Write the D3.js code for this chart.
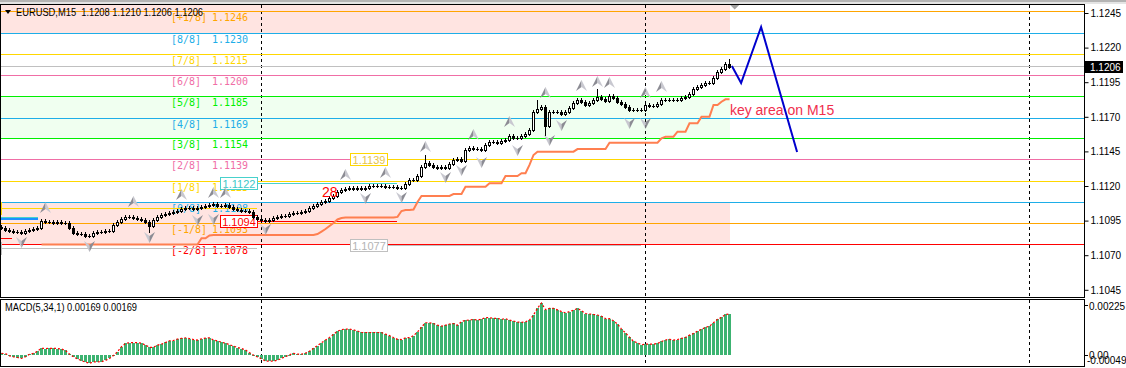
<!DOCTYPE html>
<html><head><meta charset="utf-8">
<script src="https://cdn.jsdelivr.net/npm/d3@7"></script>
<style>html,body{margin:0;padding:0;background:#fff;overflow:hidden}svg{display:block}text{white-space:pre}</style>
</head><body>
<svg id="c" width="1126" height="368"></svg>
<script>
// ---------------- DATA ----------------
const headerText = "EURUSD,M15  1.1208 1.1210 1.1206 1.1206";
const macdTitle = "MACD(5,34,1) 0.00169 0.00169";
const lastPrice = 1.1206;
const firstOpen = 1.10904;
const closes = [
1.10897,1.10882,1.10875,1.10868,1.10868,1.10861,1.10875,1.10882,1.10889,1.10897,
1.10947,1.10940,1.10940,1.10933,1.10940,1.10933,1.10933,1.10897,1.10861,1.10853,
1.10853,1.10839,1.10839,1.10861,1.10868,1.10868,1.10875,1.10875,1.10918,1.10940,
1.10962,1.10976,1.10976,1.10969,1.10962,1.10954,1.10940,1.10911,1.10954,1.10976,
1.10991,1.10998,1.11005,1.11012,1.11019,1.11034,1.11041,1.11041,1.11034,1.11041,
1.11048,1.11056,1.11063,1.11070,1.11056,1.11056,1.11063,1.11048,1.11034,1.11027,
1.11019,1.11019,1.11012,1.10976,1.10962,1.10954,1.10947,1.10954,1.10969,1.10976,
1.10983,1.10983,1.10998,1.11005,1.11005,1.11012,1.11019,1.11041,1.11056,1.11070,
1.11085,1.11092,1.11113,1.11128,1.11157,1.11171,1.11178,1.11186,1.11178,1.11186,
1.11178,1.11186,1.11200,1.11200,1.11200,1.11200,1.11193,1.11193,1.11193,1.11186,
1.11186,1.11215,1.11243,1.11243,1.11272,1.11337,1.11366,1.11352,1.11337,1.11330,
1.11337,1.11330,1.11359,1.11388,1.11395,1.11381,1.11460,1.11475,1.11467,1.11467,
1.11460,1.11496,1.11518,1.11518,1.11511,1.11525,1.11532,1.11561,1.11547,1.11547,
1.11561,1.11576,1.11605,1.11735,1.11756,1.11771,1.11634,1.11735,1.11735,1.11735,
1.11720,1.11735,1.11764,1.11800,1.11821,1.11807,1.11785,1.11800,1.11821,1.11843,
1.11829,1.11814,1.11850,1.11836,1.11807,1.11793,1.11771,1.11749,1.11749,1.11749,
1.11749,1.11785,1.11778,1.11778,1.11793,1.11821,1.11821,1.11821,1.11821,1.11821,
1.11836,1.11843,1.11865,1.11901,1.11915,1.11930,1.11944,1.11944,1.11980,1.12024,
1.12045,1.12080,1.12060];
// long wicks only: index -> [high, low]
const wickIdx  = [37, 106, 134, 136, 149, 182];
const wickHigh = [null, 1.11410, 1.11806, null, 1.11886, 1.12100];
const wickLow  = [1.10875, null, null, 1.11576, null, 1.12060];

const trail = [
null,null,null,null,null,null,null,null,null,null,
1.10777,1.10777,1.10777,1.10777,1.10777,1.10777,1.10777,1.10777,1.10777,1.10777,
1.10777,1.10777,1.10777,1.10777,1.10777,1.10777,1.10777,1.10777,1.10777,1.10777,
1.10777,1.10777,1.10777,1.10777,1.10777,1.10777,1.10777,1.10777,1.10777,1.10777,
1.10777,1.10777,1.10777,1.10777,1.10777,1.10777,1.10777,1.10777,1.10777,1.10777,
1.10822,1.10822,1.10842,1.10846,1.10846,1.10846,1.10846,1.10846,1.10846,1.10846,
1.10846,1.10846,1.10846,1.10846,1.10846,1.10846,1.10846,1.10846,1.10846,1.10846,
1.10846,1.10846,1.10846,1.10846,1.10846,1.10846,1.10846,1.10846,1.10846,1.10853,
1.10871,1.10889,1.10911,1.10933,1.10958,1.10969,1.10972,1.10972,1.10972,1.10972,
1.10972,1.10972,1.10972,1.10972,1.10972,1.10972,1.10972,1.10972,1.10972,1.10977,
1.11019,1.11027,1.11027,1.11030,1.11085,1.11128,1.11128,1.11128,1.11128,1.11128,
1.11128,1.11128,1.11128,1.11142,1.11142,1.11142,1.11195,1.11195,1.11195,1.11195,
1.11195,1.11195,1.11220,1.11220,1.11220,1.11220,1.11272,1.11272,1.11272,1.11272,
1.11292,1.11292,1.11352,1.11424,1.11448,1.11448,1.11448,1.11448,1.11448,1.11448,
1.11448,1.11448,1.11448,1.11448,1.11467,1.11467,1.11467,1.11467,1.11467,1.11467,
1.11467,1.11467,1.11513,1.11513,1.11513,1.11513,1.11513,1.11513,1.11513,1.11513,
1.11513,1.11513,1.11513,1.11513,1.11513,1.11545,1.11556,1.11556,1.11556,1.11592,
1.11592,1.11592,1.11653,1.11653,1.11653,1.11701,1.11701,1.11701,1.11785,1.11785,
1.11809,1.11826,1.11826];

const macd = [
0.00007,0.00006,-0.00003,-0.00007,-0.00010,-0.00014,-0.00007,0.00003,0.00007,0.00016,
0.00028,0.00027,0.00028,0.00028,0.00027,0.00025,0.00019,0.00004,-0.00007,-0.00016,
-0.00023,-0.00029,-0.00034,-0.00028,-0.00028,-0.00027,-0.00022,-0.00014,-0.00002,0.00014,
0.00035,0.00048,0.00051,0.00051,0.00051,0.00049,0.00041,0.00032,0.00032,0.00041,
0.00045,0.00052,0.00059,0.00060,0.00066,0.00069,0.00071,0.00068,0.00064,0.00062,
0.00067,0.00070,0.00071,0.00062,0.00058,0.00053,0.00049,0.00043,0.00037,0.00031,
0.00027,0.00021,0.00010,0.00000,-0.00008,-0.00015,-0.00025,-0.00025,-0.00025,-0.00021,
-0.00014,-0.00006,0.00001,0.00007,0.00004,0.00004,0.00008,0.00016,0.00028,0.00039,
0.00051,0.00062,0.00072,0.00085,0.00098,0.00105,0.00107,0.00107,0.00104,0.00099,
0.00093,0.00093,0.00093,0.00093,0.00093,0.00093,0.00086,0.00080,0.00072,0.00065,
0.00064,0.00071,0.00072,0.00080,0.00095,0.00115,0.00133,0.00133,0.00130,0.00123,
0.00119,0.00123,0.00128,0.00130,0.00123,0.00138,0.00143,0.00144,0.00147,0.00144,
0.00148,0.00154,0.00154,0.00151,0.00151,0.00147,0.00150,0.00144,0.00140,0.00136,
0.00135,0.00137,0.00144,0.00165,0.00193,0.00214,0.00187,0.00192,0.00192,0.00186,
0.00179,0.00174,0.00179,0.00185,0.00192,0.00183,0.00171,0.00169,0.00167,0.00165,
0.00160,0.00150,0.00150,0.00141,0.00128,0.00107,0.00091,0.00074,0.00056,0.00051,
0.00042,0.00045,0.00045,0.00045,0.00048,0.00056,0.00062,0.00065,0.00062,0.00064,
0.00069,0.00073,0.00082,0.00089,0.00099,0.00106,0.00114,0.00119,0.00133,0.00147,
0.00155,0.00167,0.00169];

const murrayNames  = ["[+1/8]","[8/8]","[7/8]","[6/8]","[5/8]","[4/8]","[3/8]","[2/8]","[1/8]","[0/8]","[-1/8]","[-2/8]"];
const murrayValues = [1.1246,1.1230,1.1215,1.1200,1.1185,1.1169,1.1154,1.1139,1.1123,1.1108,1.1093,1.1078];
const murrayColors = ["#ffa500","#1eaee8","#ffd700","#f06ea6","#00f000","#1eaee8","#00f000","#f06ea6","#ffd700","#1eaee8","#ffa500","#ff0000"];
const zoneTop    = [1.1262, 1.1185, 1.1108];
const zoneBottom = [1.1230, 1.1154, 1.1078];
const zoneColor  = ["#ffe4e1", "#f0fff0", "#ffe4e1"];

const segStart = [-9.3, -9.3, 54.5, 54.5, 87.1, 87.1];
const segEnd   = [63.9, 63.9, 98.9, 98.9, 159.9, 159.9];
const segPrice = [1.11034, 1.10750, 1.1122, 1.1094, 1.1139, 1.1077];
const segLabel = ["1.1103", "1.1075", "1.1122", "1.1094", "1.1139", "1.1077"];
const segColor = ["#ffd700", "#c0c0c0", "#48d1cc", "#ff0000", "#ffd700", "#c0c0c0"];
const segText  = ["#e8c547", "#b4b4b4", "#3cc8c8", "#ff0000", "#e8c547", "#b4b4b4"];

const upIdx   = [11,33,45,53,56,86,96,106,118,127,136,145,149,152,161,165];
const upPrice = [1.11041,1.11085,1.11135,1.11150,1.11150,1.11280,1.11294,1.11482,1.11569,1.11662,1.11872,1.11923,1.11951,1.11944,1.11872,1.11915];
const dnIdx   = [5,22,37,49,53,66,91,100,111,115,120,129,137,140,157,161];
const dnPrice = [1.10795,1.10767,1.10832,1.10954,1.10962,1.10889,1.11113,1.11121,1.11265,1.11316,1.11374,1.11460,1.11532,1.11641,1.11655,1.11655];

const zigIdx   = [182.6, 184.9, 189.9, 198.9];
const zigPrice = [1.12067, 1.11944, 1.12349, 1.11446];

const daySep = [65, 161, 257];
const priceTicks = [1.1245,1.1220,1.1195,1.1170,1.1145,1.1120,1.1095,1.1070,1.1045];

// ---------------- SCALES ----------------
const svg = d3.select("#c");
const nBars = closes.length;
const x  = d3.scaleLinear().domain([0, 182]).range([1.5, 729.5]);
const y  = d3.scaleLinear().domain([1.1245, 1.1045]).range([13, 289.8]);
const ym = d3.scaleLinear().domain([-0.00049, 0.00225]).range([367, 300.4]);
const crisp = v => Math.floor(v) + 0.5;
const R = 1084.5;

const defs = svg.append("defs");
defs.append("clipPath").attr("id","cm").append("rect").attr("x",1).attr("y",5).attr("width",1083).attr("height",292);
defs.append("clipPath").attr("id","cd").append("rect").attr("x",1).attr("y",300).attr("width",1083).attr("height",66);

// top window band
svg.append("rect").attr("x",0).attr("y",0).attr("width",1126).attr("height",2).attr("fill","#b4b4b4");
svg.append("rect").attr("x",0).attr("y",2).attr("width",1126).attr("height",2).attr("fill","#e4e4e4");

const gm = svg.append("g").attr("clip-path","url(#cm)");
const zoneEnd = x(nBars - 1) + 0.5;

// zones
gm.selectAll("rect.zone").data(zoneTop).join("rect").attr("class","zone")
  .attr("x", 0).attr("width", zoneEnd)
  .attr("y", (d,i)=>Math.floor(y(d))+1).attr("height",(d,i)=>Math.floor(y(zoneBottom[i]))-Math.floor(y(d)))
  .attr("fill",(d,i)=>zoneColor[i]);

// day separators (main)
gm.selectAll("line.sep").data(daySep).join("line").attr("class","sep")
  .attr("x1",d=>x(d)).attr("x2",d=>x(d)).attr("y1",5).attr("y2",297)
  .attr("stroke","#000").attr("stroke-dasharray","3,3").attr("shape-rendering","crispEdges");

// murray lines
gm.selectAll("line.mm").data(murrayValues).join("line").attr("class","mm")
  .attr("x1",0).attr("x2",R).attr("y1",d=>crisp(y(d))).attr("y2",d=>crisp(y(d)))
  .attr("stroke",(d,i)=>murrayColors[i]).attr("stroke-width",1).attr("shape-rendering","crispEdges");

// bid line
gm.append("line").attr("x1",0).attr("x2",R).attr("y1",crisp(y(lastPrice))).attr("y2",crisp(y(lastPrice)))
  .attr("stroke","#c0c0c0").attr("shape-rendering","crispEdges");

// murray labels
const lblFont = "'DejaVu Sans Mono', monospace";
gm.selectAll("text.mn").data(murrayNames).join("text").attr("class","mn")
  .attr("x",171).attr("y",(d,i)=>crisp(y(murrayValues[i]))+9.5)
  .attr("font-family",lblFont).attr("font-size",10).attr("fill",(d,i)=>murrayColors[i]).text(d=>d);
gm.selectAll("text.mv").data(murrayValues).join("text").attr("class","mv")
  .attr("x",212).attr("y",d=>crisp(y(d))+9.5)
  .attr("font-family",lblFont).attr("font-size",10).attr("fill",(d,i)=>murrayColors[i]).text(d=>d.toFixed(4));

// extra left lines
gm.append("line").attr("x1",0).attr("x2",x(9)).attr("y1",crisp(y(1.10976))).attr("y2",crisp(y(1.10976)))
  .attr("stroke","#48d1cc").attr("shape-rendering","crispEdges");
gm.append("line").attr("x1",0).attr("x2",x(9)).attr("y1",Math.round(y(1.10962))).attr("y2",Math.round(y(1.10962)))
  .attr("stroke","#1e90ff").attr("stroke-width",2).attr("shape-rendering","crispEdges");
gm.append("line").attr("x1",0).attr("x2",x(2.6)).attr("y1",crisp(y(1.10824))).attr("y2",crisp(y(1.10824)))
  .attr("stroke","#ff0000").attr("shape-rendering","crispEdges");

// labeled level segments
segPrice.forEach((p,i)=>{
  const bx = Math.round(x(segStart[i])) + 0.5, bw = 37, yy = crisp(y(p));
  gm.append("line").attr("x1",bx+bw).attr("x2",x(segEnd[i])).attr("y1",yy).attr("y2",yy)
    .attr("stroke",segColor[i]).attr("shape-rendering","crispEdges");
  gm.append("rect").attr("x",bx).attr("y",yy-6).attr("width",bw).attr("height",12)
    .attr("fill","#fff").attr("stroke",segColor[i]).attr("shape-rendering","crispEdges");
  gm.append("text").attr("x",bx+bw/2).attr("y",yy+4).attr("text-anchor","middle")
    .attr("font-family","'Liberation Sans', Arial, sans-serif").attr("font-size",11)
    .attr("fill",segText[i]).text(segLabel[i]);
});

// trailing line
gm.append("path").datum(trail.map((v,i)=>[i,v]).filter(d=>d[1]!==null))
  .attr("d", d3.line().x(d=>x(d[0])).y(d=>y(d[1])))
  .attr("fill","none").attr("stroke","#ff7f50").attr("stroke-width",2);

// candles
const gc = gm.append("g");
closes.forEach((c,i)=>{
  const o = i===0 ? firstOpen : closes[i-1];
  const k = wickIdx.indexOf(i);
  const hi = k>=0 && wickHigh[k]!==null ? wickHigh[k] : Math.max(o,c);
  const lo = k>=0 && wickLow[k]!==null ? wickLow[k] : Math.min(o,c);
  const cx = x(i), left = cx - 1.5;
  const t = Math.round(y(Math.max(o,c))), b = Math.round(y(Math.min(o,c)));
  gc.append("line").attr("x1",cx).attr("x2",cx)
    .attr("y1",Math.round(y(hi))-2).attr("y2",Math.round(y(lo))+2)
    .attr("stroke","#000").attr("shape-rendering","crispEdges");
  if (b - t < 1) {
    gc.append("rect").attr("x",left).attr("y",t).attr("width",3).attr("height",1).attr("fill","#000");
  } else if (c > o) {
    gc.append("rect").attr("x",left+0.5).attr("y",t+0.5).attr("width",2).attr("height",b-t)
      .attr("fill","#fff").attr("stroke","#000").attr("shape-rendering","crispEdges");
  } else {
    gc.append("rect").attr("x",left).attr("y",t).attr("width",3).attr("height",b-t+1).attr("fill","#000");
  }
});

// arrows
function upArrow(g,cx,cy){
  g.append("path").attr("d",`M${cx},${cy-6}L${cx},${cy+1}L${cx-5.5},${cy+5}Z`).attr("fill","#8c8c94");
  g.append("path").attr("d",`M${cx},${cy-6}L${cx+5.5},${cy+5}L${cx},${cy+1}Z`).attr("fill","#c8c8d0");
}
function dnArrow(g,cx,cy){
  g.append("path").attr("d",`M${cx},${cy+6}L${cx},${cy-1}L${cx-5.5},${cy-5}Z`).attr("fill","#c8c8d0");
  g.append("path").attr("d",`M${cx},${cy+6}L${cx+5.5},${cy-5}L${cx},${cy-1}Z`).attr("fill","#8c8c94");
}
const ga = gm.append("g");
upIdx.forEach((v,i)=>upArrow(ga, x(v), y(upPrice[i])));
dnIdx.forEach((v,i)=>dnArrow(ga, x(v), y(dnPrice[i])));

// zigzag projection
gm.append("path").datum(zigIdx.map((v,i)=>[v,zigPrice[i]]))
  .attr("d", d3.line().x(d=>x(d[0])).y(d=>y(d[1])))
  .attr("fill","none").attr("stroke","#0000cd").attr("stroke-width",2);

// texts
gm.append("text").attr("x",x(182.1)).attr("y",y(1.11713)).attr("font-family","'Liberation Sans', Arial, sans-serif")
  .attr("font-size",14).attr("fill","#f0304e").text("key area on M15");
gm.append("text").attr("x",x(80.1)).attr("y",y(1.11120)).attr("font-family","'Liberation Sans', Arial, sans-serif")
  .attr("font-size",14).attr("fill","#ff0000").text("28");

// shift marker
svg.append("path").attr("d",`M${x(183.3)-4.5},5L${x(183.3)+4.5},5L${x(183.3)},9.5Z`).attr("fill","#a0a0a0");

// header
svg.append("path").attr("d","M5,10L11,10L8,14Z").attr("fill","#000");
svg.append("text").attr("x",16).attr("y",16).attr("font-family","'Liberation Sans', Arial, sans-serif")
  .attr("font-size",10).attr("textLength",187).attr("lengthAdjust","spacingAndGlyphs").attr("fill","#000").text(headerText);

// ---------------- MACD pane ----------------
const gd = svg.append("g").attr("clip-path","url(#cd)");
gd.selectAll("line.sep").data(daySep).join("line").attr("class","sep")
  .attr("x1",d=>x(d)).attr("x2",d=>x(d)).attr("y1",300).attr("y2",366)
  .attr("stroke","#000").attr("stroke-dasharray","3,3").attr("shape-rendering","crispEdges");
const z0 = Math.round(ym(0));
gd.selectAll("rect.mb").data(macd).join("rect").attr("class","mb")
  .attr("x",(d,i)=>x(i)-1.5).attr("width",3)
  .attr("y",d=>Math.min(Math.round(ym(d)),z0)).attr("height",d=>Math.max(1,Math.abs(Math.round(ym(d))-z0)))
  .attr("fill","#3cb371").attr("shape-rendering","crispEdges");
gd.append("path").datum(macd).attr("d", d3.line().x((d,i)=>x(i)).y(d=>ym(d)))
  .attr("fill","none").attr("stroke","#ff0000").attr("stroke-width",1.2).attr("stroke-dasharray","2,2");
svg.append("text").attr("x",5).attr("y",311).attr("font-family","'Liberation Sans', Arial, sans-serif")
  .attr("font-size",10).attr("textLength",132).attr("lengthAdjust","spacingAndGlyphs").attr("fill","#000").text(macdTitle);

// frames
svg.append("rect").attr("x",0.5).attr("y",4.5).attr("width",1084).attr("height",293).attr("fill","none").attr("stroke","#000").attr("shape-rendering","crispEdges");
svg.append("rect").attr("x",0.5).attr("y",299.5).attr("width",1084).attr("height",67).attr("fill","none").attr("stroke","#000").attr("shape-rendering","crispEdges");

// price axis
const ax = svg.append("g").attr("transform","translate(1084.5,0)")
  .call(d3.axisRight(y).tickValues(priceTicks).tickSize(4).tickFormat(d3.format(".4f")));
ax.select(".domain").remove();
ax.selectAll("line").attr("stroke","#000");
ax.selectAll("text").attr("font-family","'Liberation Sans', Arial, sans-serif").attr("font-size",10).attr("fill","#000").attr("x",6);

// current price label
const cy = y(lastPrice);
svg.append("rect").attr("x",1084).attr("y",Math.round(cy)-6).attr("width",39).attr("height",12).attr("fill","#000");
svg.append("text").attr("x",1090).attr("y",Math.round(cy)+4).attr("font-family","'Liberation Sans', Arial, sans-serif")
  .attr("font-size",10).attr("fill","#fff").text(lastPrice.toFixed(4));

// macd axis
const macdLabels = [0.00225, 0, -0.00049];
const macdFmt = d => d===0 ? "0.00" : d.toFixed(5);
const macdOff = [9.5, 3.5, -3];
svg.selectAll("text.ml").data(macdLabels).join("text").attr("class","ml")
  .attr("x",(d,i)=> i===2 ? 1087 : 1089).attr("y",(d,i)=>ym(d)+macdOff[i])
  .attr("font-family","'Liberation Sans', Arial, sans-serif").attr("font-size",10).attr("fill","#000").text(macdFmt);
svg.selectAll("line.mt").data([0.00225,0]).join("line").attr("class","mt")
  .attr("x1",1084.5).attr("x2",1088).attr("y1",d=>crisp(ym(d)+ (d>0?5:0))).attr("y2",d=>crisp(ym(d)+(d>0?5:0)))
  .attr("stroke","#000").attr("shape-rendering","crispEdges");
</script>
</body></html>
